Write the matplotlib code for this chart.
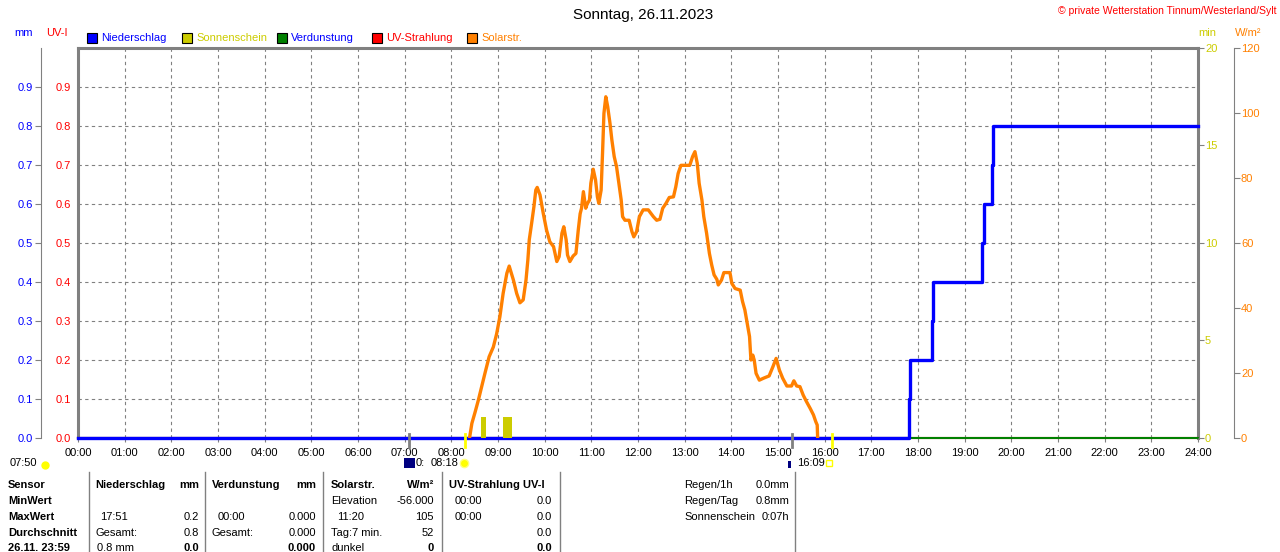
import matplotlib
matplotlib.use("Agg")
import matplotlib.pyplot as plt
from matplotlib.patches import Rectangle
from matplotlib.lines import Line2D

plt.rcParams['font.family'] = ['Liberation Sans', 'DejaVu Sans']

W, H = 1280, 552

# --- data ---
hour_labels = [f"{h:02d}:00" for h in range(25)]

# Solarstrahlung (W/m2), time in hours
solar_t = [8.39, 8.44, 8.51, 8.58, 8.65, 8.72, 8.81, 8.90, 8.97, 9.04,
           9.11, 9.19, 9.24, 9.33, 9.40, 9.47, 9.54, 9.60, 9.64, 9.67,
           9.72, 9.77, 9.81, 9.84, 9.90, 9.97, 10.04, 10.11, 10.19, 10.26,
           10.31, 10.37, 10.41, 10.46, 10.49, 10.54, 10.61, 10.67, 10.72, 10.76,
           10.79, 10.83, 10.88, 10.91, 10.96, 10.99, 11.04, 11.09, 11.13, 11.16,
           11.21, 11.24, 11.27, 11.31, 11.35, 11.40, 11.44, 11.49, 11.54, 11.59,
           11.64, 11.67, 11.72, 11.81, 11.87, 11.91, 11.97, 12.03, 12.11, 12.22,
           12.33, 12.40, 12.47, 12.53, 12.60, 12.67, 12.76, 12.81, 12.86, 12.92,
           13.11, 13.17, 13.22, 13.27, 13.31, 13.37, 13.41, 13.47, 13.53, 13.58,
           13.63, 13.69, 13.72, 13.79, 13.84, 13.97, 14.01, 14.08, 14.19, 14.24,
           14.29, 14.34, 14.39, 14.42, 14.46, 14.49, 14.53, 14.60, 14.69, 14.81,
           14.89, 14.96, 15.03, 15.10, 15.19, 15.29, 15.34, 15.40, 15.47, 15.54,
           15.61, 15.69, 15.76, 15.81, 15.84, 15.85]
solar_w = [0, 4.5, 8, 11.7, 15.8, 19.9, 25, 28, 32, 37.3,
           44.5, 50.7, 52.9, 48.6, 44.5, 41.6, 42.5, 48.6, 54.8, 61,
           66, 71.2, 76.3, 77.1, 74.8, 69.1, 64, 60.4, 58.9, 54.3,
           55.8, 63, 65, 61, 56.3, 54.3, 56, 56.8, 64, 69,
           70.7, 75.8, 70.7, 72, 73.2, 78.4, 82.7, 79.4, 74.2, 72.2,
           76.3, 87.6, 99.9, 105, 102, 96.8, 91.7, 86.6, 83.5, 78.4,
           73.2, 68.1, 67, 67, 63.5, 61.9, 63.5, 68.1, 70.2, 70.2,
           68.1, 67, 67.3, 70.7, 72.2, 74, 74.2, 77.3, 81.4, 83.9,
           83.9, 86.6, 88.1, 84.5, 78.4, 73.2, 68.1, 63, 56.8, 53.2,
           50.2, 48.8, 47.1, 48.6, 50.9, 50.9, 47.6, 46, 45.5, 42,
           39.4, 35.3, 31.2, 24, 25.5, 24, 19.9, 17.8, 18.4, 19.1,
           21.9, 24.5, 20.9, 18.4, 16, 16, 17.6, 16, 15.8, 13.2,
           11.2, 9.1, 7.1, 5, 4, 0]

# Niederschlag (mm, cumulative), step after each time
rain_t = [0, 17.80, 17.82, 18.30, 18.33, 19.38, 19.41, 19.58, 19.60, 24]
rain_mm = [0.0, 0.1, 0.2, 0.3, 0.4, 0.5, 0.6, 0.7, 0.8, 0.8]

# Verdunstung (mm) and UV index: zero all day
verd_t = [0, 24]
verd_mm = [0.0, 0.0]
uv_t = [0, 24]
uv_i = [0.0, 0.0]

# Sonnenschein (min) per interval
sun_start = [8.64, 9.11]
sun_end = [8.74, 9.30]
sun_min = [1.1, 1.1]

sunrise, sunset = 8.30, 16.15
moon_marks = [7.09, 15.31]

legend_names = ["Niederschlag", "Sonnenschein", "Verdunstung", "UV-Strahlung", "Solarstr."]
legend_colors = ["#0000FF", "#CCCC00", "#008000", "#FF0000", "#FF8000"]
legend_text_colors = ["#0000FF", "#CCCC00", "#0000FF", "#FF0000", "#FF8000"]

GRAY = "#808080"
BLUE = "#0000FF"
ORANGE = "#FF8000"
YELLOW = "#CCCC00"


def fx(x):
    return x / W


def fy(y):
    return 1 - y / H


fig = plt.figure(figsize=(W / 100, H / 100), dpi=100)
fig.patch.set_facecolor("white")

ax = fig.add_axes([fx(78), fy(438), 1120 / W, 390 / H])
ax.set_xlim(0, 24)
ax.set_ylim(0, 1)
ax.set_xticks(range(25))
ax.set_xticklabels(hour_labels, fontsize=8)
ax.set_yticks([i / 10 for i in range(10)])
ax.set_yticklabels([f"{i / 10:.1f}" for i in range(10)], fontsize=8, color="#FF0000")
ax.tick_params(axis="x", direction="out", length=3, color=GRAY, pad=4)
ax.tick_params(axis="y", length=0, pad=5)
ax.grid(True, color=GRAY, linestyle=(0, (3, 3)), linewidth=0.8)
for side in ["top", "left", "right"]:
    ax.spines[side].set_color(GRAY)
    ax.spines[side].set_linewidth(2.2)
ax.spines["bottom"].set_color(GRAY)
ax.spines["bottom"].set_linewidth(1.2)

# mm axis (blue) further left
ax_mm = ax.twinx()
ax_mm.set_ylim(0, 1)
ax_mm.spines["left"].set_position(("axes", (41 - 78) / 1120))
ax_mm.spines["left"].set_color(GRAY)
for side in ["top", "right", "bottom"]:
    ax_mm.spines[side].set_visible(False)
ax_mm.yaxis.set_ticks_position("left")
ax_mm.set_yticks([i / 10 for i in range(10)])
ax_mm.set_yticklabels([f"{i / 10:.1f}" for i in range(10)], fontsize=8, color=BLUE)
ax_mm.tick_params(axis="y", length=4, color=GRAY, pad=2)

# min axis (yellow) on right spine
ax_min = ax.twinx()
ax_min.set_ylim(0, 20)
for side in ["top", "left", "bottom", "right"]:
    ax_min.spines[side].set_visible(False)
ax_min.set_yticks([0, 5, 10, 15, 20])
ax_min.set_yticklabels(["0", "5", "10", "15", "20"], fontsize=8, color=YELLOW)
ax_min.tick_params(axis="y", length=4, color=GRAY, pad=1)

# W/m2 axis (orange)
ax_w = ax.twinx()
ax_w.set_ylim(0, 120)
ax_w.spines["right"].set_position(("axes", 1 + (1234 - 1198) / 1120))
ax_w.spines["right"].set_color(GRAY)
for side in ["top", "left", "bottom"]:
    ax_w.spines[side].set_visible(False)
ax_w.set_yticks(range(0, 121, 20))
ax_w.set_yticklabels([str(v) for v in range(0, 121, 20)], fontsize=8, color=ORANGE)
ax_w.tick_params(axis="y", length=4, color=GRAY, pad=1)

# series
ax.plot(uv_t, uv_i, color="#FF0000", lw=1.5, clip_on=False, zorder=3)
ax.plot(verd_t, verd_mm, color="#008000", lw=1.5, clip_on=False, zorder=3)
ax.step(rain_t, rain_mm, where="post", color=BLUE, lw=2.4, clip_on=False, zorder=4)
for s, e, m in zip(sun_start, sun_end, sun_min):
    ax_min.bar(s, m, width=e - s, align="edge", color=YELLOW, zorder=3)
ax_w.plot(solar_t, solar_w, color=ORANGE, lw=2.4, zorder=4)

# sunrise / sunset and moon marks below the axis
for t in [sunrise, sunset]:
    ax.plot([t, t], [0.01, -0.023], color="#FFFF00", lw=2, clip_on=False, zorder=5)
for t in moon_marks:
    ax.plot([t, t], [0.01, -0.023], color=GRAY, lw=2, clip_on=False, zorder=5)

# header texts
fig.text(fx(643), fy(15), "Sonntag, 26.11.2023", fontsize=11, ha="center", va="center")
fig.text(fx(1277), fy(11), "\u00a9 private Wetterstation Tinnum/Westerland/Sylt",
         fontsize=7.5, color="#FF0000", ha="right", va="center")
fig.text(fx(14), fy(33), "mm", fontsize=8, color=BLUE, va="center")
fig.text(fx(46), fy(33), "UV-I", fontsize=8, color="#FF0000", va="center")
fig.text(fx(1198), fy(33), "min", fontsize=8, color=YELLOW, va="center")
fig.text(fx(1235), fy(33), "W/m\u00b2", fontsize=8, color=ORANGE, va="center")

# legend
leg_x = [87, 182, 277, 372, 467]
for x, name, c, tc in zip(leg_x, legend_names, legend_colors, legend_text_colors):
    fig.add_artist(Rectangle((fx(x), fy(43)), 10 / W, 10 / H, facecolor=c,
                             edgecolor="black", lw=0.8, transform=fig.transFigure))
    fig.text(fx(x + 14), fy(38), name, fontsize=8, color=tc, va="center")

# small row under the time axis
fig.text(fx(10), fy(463), "07:50", fontsize=8, va="center")
fig.add_artist(Line2D([fx(45)], [fy(465)], marker="o", markersize=5, color="#FFFF00",
                      transform=fig.transFigure))
fig.add_artist(Rectangle((fx(404), fy(468)), 11 / W, 10 / H, facecolor="#000080",
                         edgecolor="none", transform=fig.transFigure))
fig.text(fx(416), fy(463), "0:", fontsize=8, va="center")
fig.text(fx(431), fy(463), "08:18", fontsize=8, va="center")
fig.add_artist(Line2D([fx(464)], [fy(463)], marker="o", markersize=6, color="#FFFF00",
                      markeredgecolor="#FFFF80", transform=fig.transFigure))
fig.add_artist(Rectangle((fx(788), fy(468)), 3 / W, 7 / H, facecolor="#000080",
                         edgecolor="none", transform=fig.transFigure))
fig.text(fx(797), fy(463), "16:09", fontsize=8, va="center")
fig.add_artist(Line2D([fx(829)], [fy(463)], marker="s", markersize=4, color="#FFFF00",
                      markerfacecolor="none", transform=fig.transFigure))

# table separators
for x in [89, 205, 323, 442, 560, 795]:
    fig.add_artist(Line2D([fx(x), fx(x)], [fy(472), fy(552)], color=GRAY, lw=1,
                          transform=fig.transFigure))

rows_y = [485, 501, 517, 533, 548]
row_names = ["Sensor", "MinWert", "MaxWert", "Durchschnitt", "26.11. 23:59"]
for y, name in zip(rows_y, row_names):
    fig.text(fx(8), fy(y), name, fontsize=8, fontweight="bold", va="center")

# (x, row, text, align, bold)
table_cells = [
    (95, 0, "Niederschlag", "left", True), (199, 0, "mm", "right", True),
    (100, 2, "17:51", "left", False), (199, 2, "0.2", "right", False),
    (95, 3, "Gesamt:", "left", False), (199, 3, "0.8", "right", False),
    (97, 4, "0.8 mm", "left", False), (199, 4, "0.0", "right", True),
    (212, 0, "Verdunstung", "left", True), (316, 0, "mm", "right", True),
    (218, 2, "00:00", "left", False), (316, 2, "0.000", "right", False),
    (212, 3, "Gesamt:", "left", False), (316, 3, "0.000", "right", False),
    (316, 4, "0.000", "right", True),
    (331, 0, "Solarstr.", "left", True), (434, 0, "W/m\u00b2", "right", True),
    (331, 1, "Elevation", "left", False), (434, 1, "-56.000", "right", False),
    (337, 2, "11:20", "left", False), (434, 2, "105", "right", False),
    (331, 3, "Tag:7 min.", "left", False), (434, 3, "52", "right", False),
    (331, 4, "dunkel", "left", False), (434, 4, "0", "right", True),
    (449, 0, "UV-Strahlung UV-I", "left", True),
    (455, 1, "00:00", "left", False), (552, 1, "0.0", "right", False),
    (455, 2, "00:00", "left", False), (552, 2, "0.0", "right", False),
    (552, 3, "0.0", "right", False), (552, 4, "0.0", "right", True),
    (684, 0, "Regen/1h", "left", False), (789, 0, "0.0mm", "right", False),
    (684, 1, "Regen/Tag", "left", False), (789, 1, "0.8mm", "right", False),
    (684, 2, "Sonnenschein", "left", False), (789, 2, "0:07h", "right", False),
]
for x, r, txt, al, bold in table_cells:
    fig.text(fx(x), fy(rows_y[r]), txt, fontsize=8, ha=al, va="center",
             fontweight="bold" if bold else "normal")

fig.savefig("out.png", dpi=100)
